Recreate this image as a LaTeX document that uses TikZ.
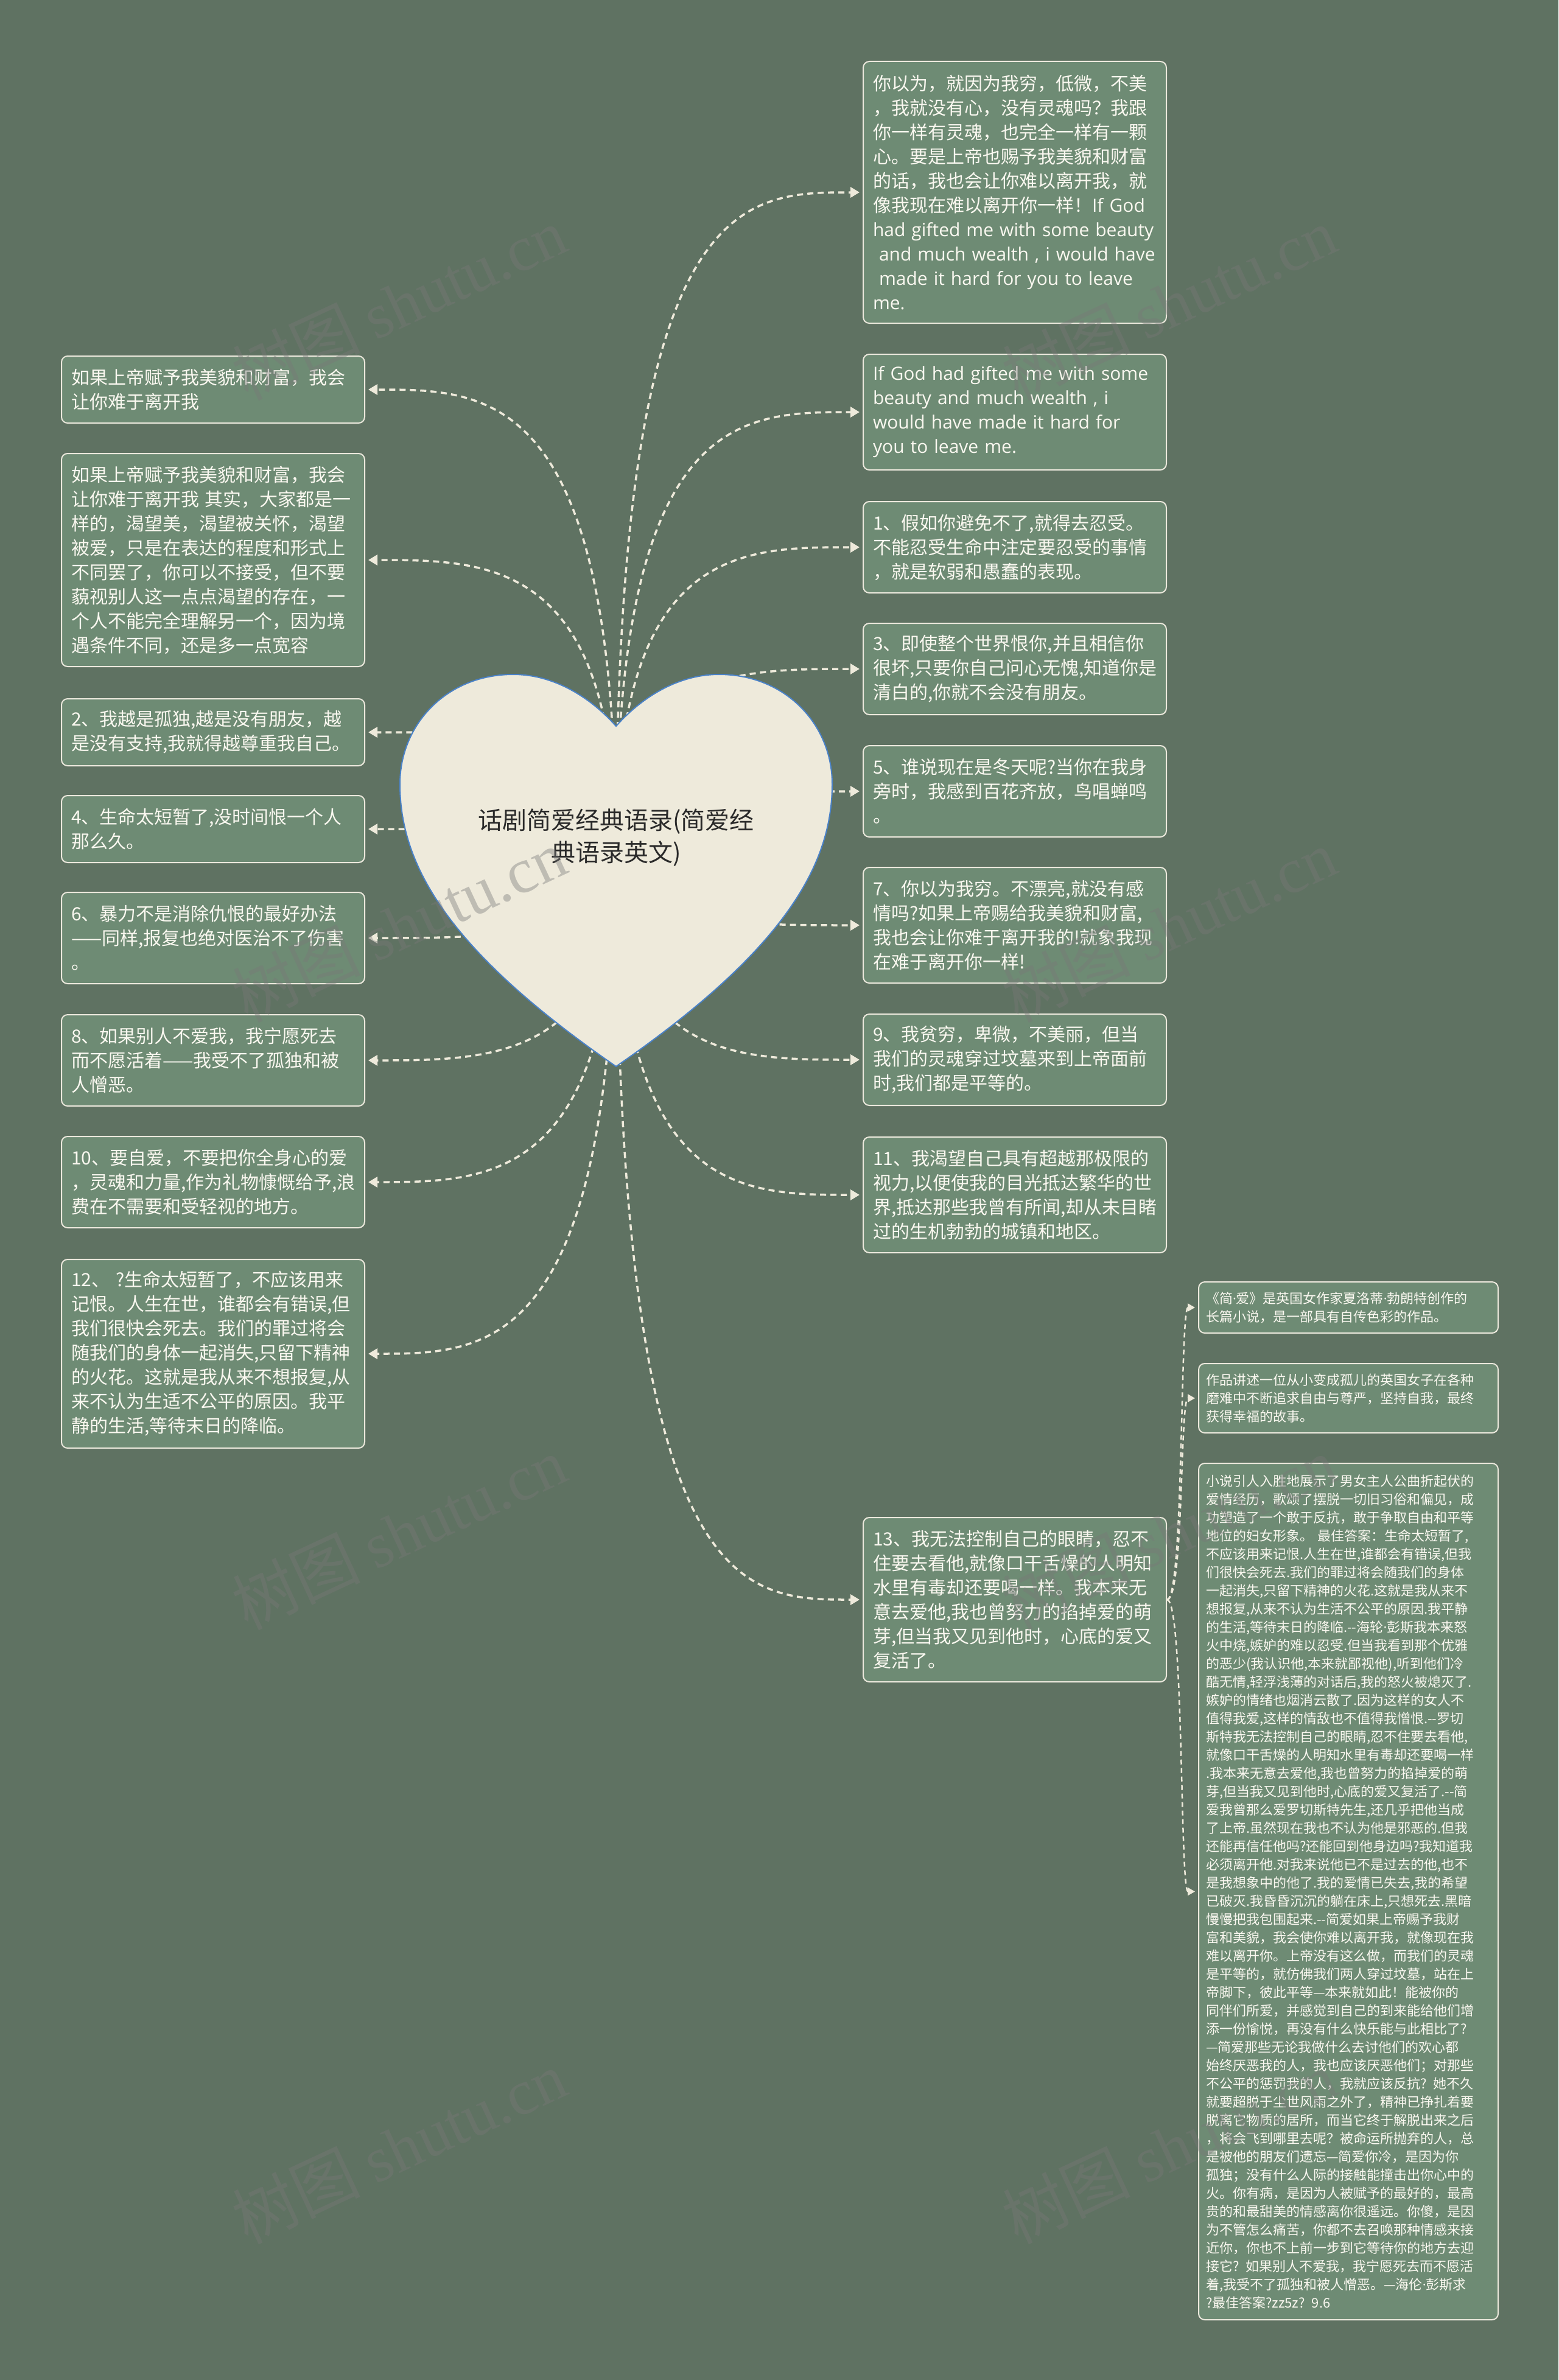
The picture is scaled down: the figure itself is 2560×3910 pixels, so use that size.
\documentclass[tikz,border=0pt]{standalone}
\usepackage{fontspec}
\newfontfamily\cjk{Noto Sans CJK SC}
\newfontfamily\enfont{Open Sans}
\newfontfamily\wmserif{Liberation Serif}
\usetikzlibrary{arrows.meta,calc}
\definecolor{bgc}{HTML}{5F7262}
\definecolor{boxfill}{HTML}{6E8B74}
\definecolor{boxline}{HTML}{EBE8DC}
\definecolor{boxtext}{HTML}{FAF8F0}
\definecolor{heartc}{HTML}{EEEADB}
\definecolor{heartline}{HTML}{4A82C8}
\definecolor{linec}{HTML}{EEEADB}
\definecolor{titlec}{HTML}{2A2A2A}
\definecolor{wmc}{HTML}{787878}
\newcommand\mdot{{\enfont ·}}
\newcommand\linkL[1]{\draw[conn] (hc) .. controls (hc |- #1.east) and ($(hc |- #1.east)!0.5!(#1.east)$) .. ([xshift=5pt]#1.east);}
\newcommand\linkR[1]{\draw[conn] (hc) .. controls (hc |- #1.west) and ($(hc |- #1.west)!0.5!(#1.west)$) .. ([xshift=-5pt]#1.west);}
\newcommand\linkF[1]{\draw[connF] (R13.east) .. controls ([xshift=28pt]R13.east) and ([xshift=-30pt]#1.west) .. ([xshift=-5pt]#1.west);}
\begin{document}
\begin{tikzpicture}[x=1pt,y=-1pt,
  box/.style={draw=boxline, line width=2pt, fill=boxfill, rounded corners=10pt,
    anchor=north west, text width=466pt, inner xsep=16pt, inner ysep=4pt,
    align=left, text=boxtext, font=\cjk\fontsize{30}{40}\selectfont},
  fbox/.style={box, text width=468pt, inner xsep=12pt, font=\cjk\fontsize{22}{30}\selectfont},
  conn/.style={draw=linec, line width=3.5pt, dash pattern=on 10pt off 7pt,
    -{Triangle[length=15pt,width=17pt]}},
  connF/.style={draw=linec, line width=2.5pt, dash pattern=on 8pt off 6pt,
    -{Triangle[length=12pt,width=13pt]}},
  wm/.style={text=wmc, opacity=0.4, rotate=25, inner sep=0pt,
    font=\cjk\fontsize{105}{110}\selectfont}
]
\fill[bgc] (0,0) rectangle (2560,3910);
\useasboundingbox (0,0) rectangle (2560,3910);

% ---------- left column ----------
\node[box, minimum height=110pt] (LA) at (100,584) {如果上帝赋予我美貌和财富，我会\\让你难于离开我};
\node[box, minimum height=350pt] (LB) at (100,744) {如果上帝赋予我美貌和财富，我会\\让你难于离开我 其实，大家都是一\\样的，渴望美，渴望被关怀，渴望\\被爱，只是在表达的程度和形式上\\不同罢了，你可以不接受，但不要\\藐视别人这一点点渴望的存在，一\\个人不能完全理解另一个，因为境\\遇条件不同，还是多一点宽容};
\node[box, minimum height=110pt] (L2) at (100,1147) {2、我越是孤独,越是没有朋友，越\\是没有支持,我就得越尊重我自己。};
\node[box, minimum height=110pt] (L4) at (100,1306) {4、生命太短暂了,没时间恨一个人\\那么久。};
\node[box, minimum height=150pt] (L6) at (100,1465) {6、暴力不是消除仇恨的最好办法\\——同样,报复也绝对医治不了伤害\\。};
\node[box, minimum height=150pt] (L8) at (100,1666) {8、如果别人不爱我，我宁愿死去\\而不愿活着——我受不了孤独和被\\人憎恶。};
\node[box, minimum height=150pt] (L10) at (100,1866) {10、要自爱，不要把你全身心的爱\\，灵魂和力量,作为礼物慷慨给予,浪\\费在不需要和受轻视的地方。};
\node[box, minimum height=310pt] (L12) at (100,2068) {12、 ?生命太短暂了，不应该用来\\记恨。人生在世，谁都会有错误,但\\我们很快会死去。我们的罪过将会\\随我们的身体一起消失,只留下精神\\的火花。这就是我从来不想报复,从\\来不认为生适不公平的原因。我平\\静的生活,等待末日的降临。};

% ---------- right column ----------
\node[box, minimum height=430pt] (R0) at (1417,100) {你以为，就因为我穷，低微，不美\\，我就没有心，没有灵魂吗？我跟\\你一样有灵魂，也完全一样有一颗\\心。要是上帝也赐予我美貌和财富\\的话，我也会让你难以离开我，就\\像我现在难以离开你一样！{\enfont If God}\\\mbox{\enfont had gifted me with some beauty}\\\mbox{\enfont\ and much wealth , i would have}\\\mbox{\enfont\ made it hard for you to leave}\\{\enfont me.}};
\node[box, minimum height=190pt] (R1) at (1417,581) {\mbox{\enfont If God had gifted me with some}\\\mbox{\enfont beauty and much wealth , i}\\\mbox{\enfont would have made it hard for}\\\mbox{\enfont you to leave me.}};
\node[box, minimum height=150pt] (R2) at (1417,823) {1、假如你避免不了,就得去忍受。\\不能忍受生命中注定要忍受的事情\\，就是软弱和愚蠢的表现。};
\node[box, minimum height=150pt] (R3) at (1417,1023) {3、即使整个世界恨你,并且相信你\\很坏,只要你自己问心无愧,知道你是\\清白的,你就不会没有朋友。};
\node[box, minimum height=150pt] (R5) at (1417,1224) {5、谁说现在是冬天呢?当你在我身\\旁时，我感到百花齐放，鸟唱蝉鸣\\。};
\node[box, minimum height=190pt] (R7) at (1417,1424) {7、你以为我穷。不漂亮,就没有感\\情吗?如果上帝赐给我美貌和财富,\\我也会让你难于离开我的!就象我现\\在难于离开你一样!};
\node[box, minimum height=150pt] (R9) at (1417,1665) {9、我贫穷，卑微，不美丽，但当\\我们的灵魂穿过坟墓来到上帝面前\\时,我们都是平等的。};
\node[box, minimum height=190pt] (R11) at (1417,1867) {11、我渴望自己具有超越那极限的\\视力,以便使我的目光抵达繁华的世\\界,抵达那些我曾有所闻,却从未目睹\\过的生机勃勃的城镇和地区。};
\node[box, minimum height=270pt] (R13) at (1417,2492) {13、我无法控制自己的眼睛，忍不\\住要去看他,就像口干舌燥的人明知\\水里有毒却还要喝一样。我本来无\\意去爱他,我也曾努力的掐掉爱的萌\\芽,但当我又见到他时，心底的爱又\\复活了。};

% ---------- far right ----------
\node[fbox, minimum height=84pt] (F1) at (1968,2105) {《简\mdot 爱》是英国女作家夏洛蒂\mdot 勃朗特创作的\\长篇小说，是一部具有自传色彩的作品。};
\node[fbox, minimum height=114pt] (F2) at (1968,2239) {作品讲述一位从小变成孤儿的英国女子在各种\\磨难中不断追求自由与尊严，坚持自我，最终\\获得幸福的故事。};
\node[fbox, minimum height=1407pt] (F3) at (1968,2403) {小说引人入胜地展示了男女主人公曲折起伏的\\爱情经历，歌颂了摆脱一切旧习俗和偏见，成\\功塑造了一个敢于反抗，敢于争取自由和平等\\地位的妇女形象。 最佳答案：生命太短暂了,\\不应该用来记恨.人生在世,谁都会有错误,但我\\们很快会死去.我们的罪过将会随我们的身体\\一起消失,只留下精神的火花.这就是我从来不\\想报复,从来不认为生活不公平的原因.我平静\\的生活,等待末日的降临.--海轮\mdot 彭斯我本来怒\\火中烧,嫉妒的难以忍受.但当我看到那个优雅\\的恶少(我认识他,本来就鄙视他),听到他们冷\\酷无情,轻浮浅薄的对话后,我的怒火被熄灭了.\\嫉妒的情绪也烟消云散了.因为这样的女人不\\值得我爱,这样的情敌也不值得我憎恨.--罗切\\斯特我无法控制自己的眼睛,忍不住要去看他,\\就像口干舌燥的人明知水里有毒却还要喝一样\\.我本来无意去爱他,我也曾努力的掐掉爱的萌\\芽,但当我又见到他时,心底的爱又复活了.--简\\爱我曾那么爱罗切斯特先生,还几乎把他当成\\了上帝.虽然现在我也不认为他是邪恶的.但我\\还能再信任他吗?还能回到他身边吗?我知道我\\必须离开他.对我来说他已不是过去的他,也不\\是我想象中的他了.我的爱情已失去,我的希望\\已破灭.我昏昏沉沉的躺在床上,只想死去.黑暗\\慢慢把我包围起来.--简爱如果上帝赐予我财\\富和美貌，我会使你难以离开我，就像现在我\\难以离开你。上帝没有这么做，而我们的灵魂\\是平等的，就仿佛我们两人穿过坟墓，站在上\\帝脚下，彼此平等—本来就如此！能被你的\\同伴们所爱，并感觉到自己的到来能给他们增\\添一份愉悦，再没有什么快乐能与此相比了?\\—简爱那些无论我做什么去讨他们的欢心都\\始终厌恶我的人，我也应该厌恶他们；对那些\\不公平的惩罚我的人，我就应该反抗? 她不久\\就要超脱于尘世风雨之外了，精神已挣扎着要\\脱离它物质的居所，而当它终于解脱出来之后\\，将会飞到哪里去呢？被命运所抛弃的人，总\\是被他的朋友们遗忘—简爱你冷，是因为你\\孤独；没有什么人际的接触能撞击出你心中的\\火。你有病，是因为人被赋予的最好的，最高\\贵的和最甜美的情感离你很遥远。你傻，是因\\为不管怎么痛苦，你都不去召唤那种情感来接\\近你，你也不上前一步到它等待你的地方去迎\\接它? 如果别人不爱我，我宁愿死去而不愿活\\着,我受不了孤独和被人憎恶。—海伦\mdot 彭斯求\\?最佳答案?zz5z? 9.6};

% ---------- connectors ----------
\coordinate (hc) at (1012,1400);
\linkL{LA}\linkL{LB}\linkL{L2}\linkL{L4}\linkL{L6}\linkL{L8}\linkL{L10}\linkL{L12}
\linkR{R0}\linkR{R1}\linkR{R2}\linkR{R3}\linkR{R5}\linkR{R7}\linkR{R9}\linkR{R11}\linkR{R13}
\linkF{F1}\linkF{F2}\linkF{F3}

% ---------- heart ----------
\filldraw[fill=heartc, draw=heartline, line width=2pt]
  (1012,1193) .. controls (1050,1150) and (1110,1108) .. (1181,1108)
  .. controls (1290,1108) and (1367,1190) .. (1367,1288)
  .. controls (1367,1420) and (1290,1560) .. (1012,1752)
  .. controls (734,1560) and (657,1420) .. (657,1288)
  .. controls (657,1190) and (734,1108) .. (843,1108)
  .. controls (914,1108) and (974,1150) .. (1012,1193) -- cycle;
\node[align=center, text=titlec, font=\cjk\fontsize{40}{53}\selectfont] (title) at (1012,1376) {话剧简爱经典语录(简爱经\\典语录英文)};

% ---------- watermarks ----------
\node[wm] (wm1) at (655,498) {树图 {\wmserif shutu.cn}};
\node[wm] (wm2) at (1920,498) {树图 {\wmserif shutu.cn}};
\node[wm] (wm3) at (655,1520) {树图 {\wmserif shutu.cn}};
\node[wm] (wm4) at (1920,1520) {树图 {\wmserif shutu.cn}};
\node[wm] (wm5) at (655,2518) {树图 {\wmserif shutu.cn}};
\node[wm] (wm6) at (1920,2518) {树图 {\wmserif shutu.cn}};
\node[wm] (wm7) at (655,3527) {树图 {\wmserif shutu.cn}};
\node[wm] (wm8) at (1920,3527) {树图 {\wmserif shutu.cn}};
\end{tikzpicture}
\end{document}
